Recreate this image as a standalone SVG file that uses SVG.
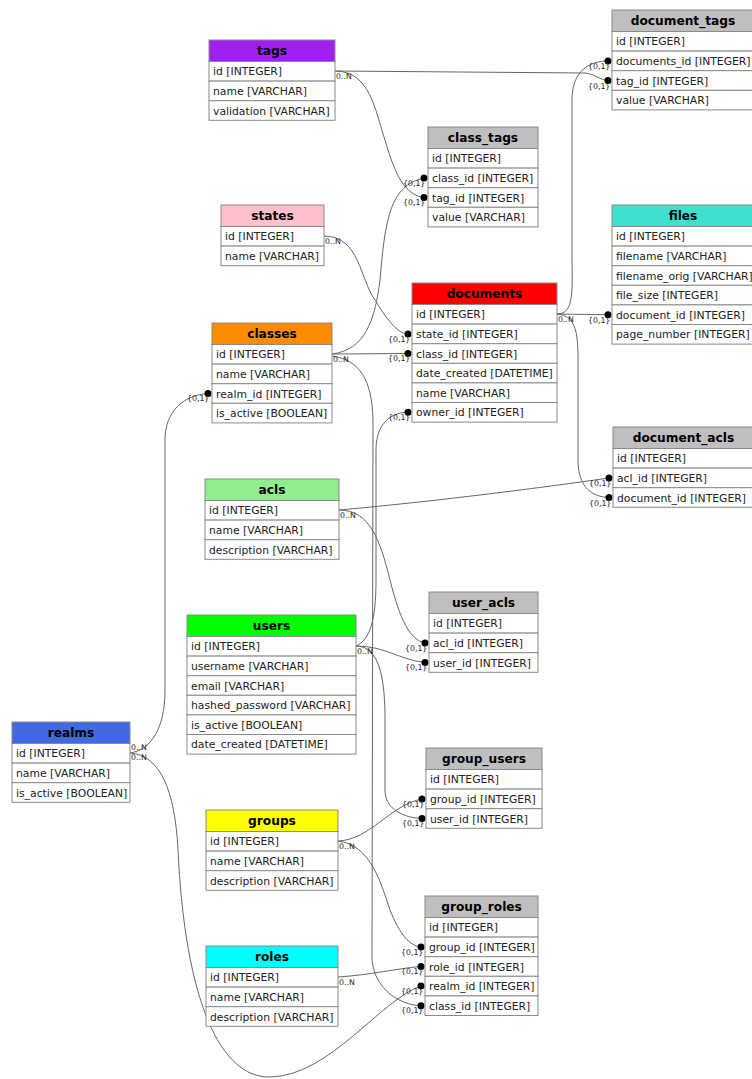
<svg xmlns="http://www.w3.org/2000/svg" width="752" height="1079" viewBox="0 0 752 1079">
<style>
.bg{fill:#ffffff}
.cell{fill:#ffffff;stroke:#8a8a8a;stroke-width:1}
.hd{stroke:#8a8a8a;stroke-width:1}
.ht{font-family:"DejaVu Sans",sans-serif;font-weight:bold;font-size:12.2px;fill:#000;text-anchor:middle}
.rt{font-family:"DejaVu Sans",sans-serif;font-size:10.8px;fill:#222}
.lb{font-family:"DejaVu Sans",sans-serif;font-size:7.8px;fill:#222}
.e{fill:none;stroke:#666;stroke-width:1}
.dot{fill:#000}
.gray{fill:#bfbfbf}
</style>
<rect class="bg" x="0" y="0" width="752" height="1079"/>

<g id="connectors">
<path class="e" d="M335,71 L585,73 C595,74 600,80 608,80.5"/>
<path class="e" d="M335,71 C370,71 375,110 385,140 C395,175 405,195 424,197.5"/>
<path class="e" d="M324,236 C360,236 360,280 375,300 C390,325 400,334 408,334"/>
<path class="e" d="M332,354 L408,353.5"/>
<path class="e" d="M332,354 C365,350 375,320 380,280 C385,220 390,185 424,178"/>
<path class="e" d="M332,356 C360,360 372,380 373,420 L372,960 C375,990 400,1005 421,1005.7"/>
<path class="e" d="M557,314 L608,314.7"/>
<path class="e" d="M557,314 C575,314 572,290 572,250 L572,100 C572,70 590,61 608,61"/>
<path class="e" d="M557,314 C580,316 578,340 578,380 L578,460 C578,490 595,497 609,497.5"/>
<path class="e" d="M339,510 C450,500 560,485 609,478"/>
<path class="e" d="M339,510 C370,510 380,540 390,580 C400,620 410,640 425,643"/>
<path class="e" d="M356,646 C385,646 400,660 425,662.5"/>
<path class="e" d="M356,646 C380,646 385,680 385,720 L385,790 C385,810 405,818 422,818.5"/>
<path class="e" d="M356,646 C370,640 376,620 376,580 L376,450 C376,420 395,412 408,412.3"/>
<path class="e" d="M130,753 C150,750 165,730 165,690 L165,440 C165,410 185,395 208,393.5"/>
<path class="e" d="M130,753 C160,755 175,790 178,850 C185,1000 220,1078 270,1077 C330,1076 380,1000 421,986"/>
<path class="e" d="M338,841 C370,840 390,805 422,799"/>
<path class="e" d="M338,841 C370,845 380,880 390,910 C400,935 410,946 421,947"/>
<path class="e" d="M338,977 C370,975 400,968 421,966.5"/>
<g>
<circle class="dot" cx="608" cy="80.5" r="3.5"/><circle class="dot" cx="608" cy="61" r="3.5"/>
<circle class="dot" cx="424" cy="178" r="3.5"/><circle class="dot" cx="424" cy="197.5" r="3.5"/>
<circle class="dot" cx="608" cy="314.7" r="3.5"/>
<circle class="dot" cx="408" cy="334" r="3.5"/><circle class="dot" cx="408" cy="353.5" r="3.5"/><circle class="dot" cx="408" cy="412.3" r="3.5"/>
<circle class="dot" cx="208" cy="393.5" r="3.5"/>
<circle class="dot" cx="609" cy="478" r="3.5"/><circle class="dot" cx="609" cy="497.5" r="3.5"/>
<circle class="dot" cx="425" cy="643" r="3.5"/><circle class="dot" cx="425" cy="662.5" r="3.5"/>
<circle class="dot" cx="422" cy="799" r="3.5"/><circle class="dot" cx="422" cy="818.5" r="3.5"/>
<circle class="dot" cx="421" cy="947" r="3.5"/><circle class="dot" cx="421" cy="966.5" r="3.5"/><circle class="dot" cx="421" cy="986" r="3.5"/><circle class="dot" cx="421" cy="1005.7" r="3.5"/>
</g>
<g>
<text class="lb" x="336" y="79">0..N</text>
<text class="lb" x="325" y="244">0..N</text>
<text class="lb" x="333" y="362">0..N</text>
<text class="lb" x="558" y="322">0..N</text>
<text class="lb" x="340" y="518">0..N</text>
<text class="lb" x="357" y="654">0..N</text>
<text class="lb" x="131" y="750">0..N</text>
<text class="lb" x="131" y="760">0..N</text>
<text class="lb" x="339" y="849">0..N</text>
<text class="lb" x="339" y="985">0..N</text>
<text class="lb" x="588" y="69">{0,1}</text><text class="lb" x="588" y="89">{0,1}</text>
<text class="lb" x="403" y="186">{0,1}</text><text class="lb" x="403" y="205">{0,1}</text>
<text class="lb" x="588" y="323">{0,1}</text>
<text class="lb" x="388" y="342">{0,1}</text><text class="lb" x="388" y="361">{0,1}</text><text class="lb" x="388" y="420">{0,1}</text>
<text class="lb" x="187" y="401">{0,1}</text>
<text class="lb" x="589" y="486">{0,1}</text><text class="lb" x="589" y="506">{0,1}</text>
<text class="lb" x="405" y="651">{0,1}</text><text class="lb" x="405" y="670">{0,1}</text>
<text class="lb" x="402" y="807">{0,1}</text><text class="lb" x="402" y="826">{0,1}</text>
<text class="lb" x="401" y="955">{0,1}</text><text class="lb" x="401" y="974">{0,1}</text><text class="lb" x="401" y="994">{0,1}</text><text class="lb" x="401" y="1013">{0,1}</text>
</g>
</g>

<g id="tags">
<rect class="hd" x="209" y="40" width="126" height="21.5" fill="#a020f0"/><text class="ht" x="272" y="55">tags</text>
<rect class="cell" x="209" y="61.5" width="126" height="19.6"/><text class="rt" x="213" y="75.3">id [INTEGER]</text>
<rect class="cell" x="209" y="81.1" width="126" height="19.6"/><text class="rt" x="213" y="94.9">name [VARCHAR]</text>
<rect class="cell" x="209" y="100.7" width="126" height="19.6"/><text class="rt" x="213" y="114.5">validation [VARCHAR]</text>
</g>

<g id="document_tags">
<rect class="hd gray" x="612" y="10" width="142" height="21.5"/><text class="ht" x="683" y="25">document_tags</text>
<rect class="cell" x="612" y="31.5" width="142" height="19.6"/><text class="rt" x="616" y="45.3">id [INTEGER]</text>
<rect class="cell" x="612" y="51.1" width="142" height="19.6"/><text class="rt" x="616" y="64.9">documents_id [INTEGER]</text>
<rect class="cell" x="612" y="70.7" width="142" height="19.6"/><text class="rt" x="616" y="84.5">tag_id [INTEGER]</text>
<rect class="cell" x="612" y="90.3" width="142" height="19.6"/><text class="rt" x="616" y="104.1">value [VARCHAR]</text>
</g>

<g id="class_tags">
<rect class="hd gray" x="428" y="127" width="110" height="21.5"/><text class="ht" x="483" y="142">class_tags</text>
<rect class="cell" x="428" y="148.5" width="110" height="19.6"/><text class="rt" x="432" y="162.3">id [INTEGER]</text>
<rect class="cell" x="428" y="168.1" width="110" height="19.6"/><text class="rt" x="432" y="181.9">class_id [INTEGER]</text>
<rect class="cell" x="428" y="187.7" width="110" height="19.6"/><text class="rt" x="432" y="201.5">tag_id [INTEGER]</text>
<rect class="cell" x="428" y="207.3" width="110" height="19.6"/><text class="rt" x="432" y="221.1">value [VARCHAR]</text>
</g>

<g id="states">
<rect class="hd" x="221" y="205" width="103" height="21.5" fill="#ffc0cb"/><text class="ht" x="272.5" y="220">states</text>
<rect class="cell" x="221" y="226.5" width="103" height="19.6"/><text class="rt" x="225" y="240.3">id [INTEGER]</text>
<rect class="cell" x="221" y="246.1" width="103" height="19.6"/><text class="rt" x="225" y="259.9">name [VARCHAR]</text>
</g>

<g id="files">
<rect class="hd" x="612" y="205" width="142" height="21.5" fill="#40e0d0"/><text class="ht" x="683" y="220">files</text>
<rect class="cell" x="612" y="226.5" width="142" height="19.6"/><text class="rt" x="616" y="240.3">id [INTEGER]</text>
<rect class="cell" x="612" y="246.1" width="142" height="19.6"/><text class="rt" x="616" y="259.9">filename [VARCHAR]</text>
<rect class="cell" x="612" y="265.7" width="142" height="19.6"/><text class="rt" x="616" y="279.5">filename_orig [VARCHAR]</text>
<rect class="cell" x="612" y="285.3" width="142" height="19.6"/><text class="rt" x="616" y="299.1">file_size [INTEGER]</text>
<rect class="cell" x="612" y="304.9" width="142" height="19.6"/><text class="rt" x="616" y="318.7">document_id [INTEGER]</text>
<rect class="cell" x="612" y="324.5" width="142" height="19.6"/><text class="rt" x="616" y="338.3">page_number [INTEGER]</text>
</g>

<g id="documents">
<rect class="hd" x="412" y="283" width="145" height="21.5" fill="#ff0000"/><text class="ht" x="484.5" y="298">documents</text>
<rect class="cell" x="412" y="304.5" width="145" height="19.6"/><text class="rt" x="416" y="318.3">id [INTEGER]</text>
<rect class="cell" x="412" y="324.1" width="145" height="19.6"/><text class="rt" x="416" y="337.9">state_id [INTEGER]</text>
<rect class="cell" x="412" y="343.7" width="145" height="19.6"/><text class="rt" x="416" y="357.5">class_id [INTEGER]</text>
<rect class="cell" x="412" y="363.3" width="145" height="19.6"/><text class="rt" x="416" y="377.1">date_created [DATETIME]</text>
<rect class="cell" x="412" y="382.9" width="145" height="19.6"/><text class="rt" x="416" y="396.7">name [VARCHAR]</text>
<rect class="cell" x="412" y="402.5" width="145" height="19.6"/><text class="rt" x="416" y="416.3">owner_id [INTEGER]</text>
</g>

<g id="classes">
<rect class="hd" x="212" y="323" width="120" height="21.5" fill="#ff8c00"/><text class="ht" x="272" y="338">classes</text>
<rect class="cell" x="212" y="344.5" width="120" height="19.6"/><text class="rt" x="216" y="358.3">id [INTEGER]</text>
<rect class="cell" x="212" y="364.1" width="120" height="19.6"/><text class="rt" x="216" y="377.9">name [VARCHAR]</text>
<rect class="cell" x="212" y="383.7" width="120" height="19.6"/><text class="rt" x="216" y="397.5">realm_id [INTEGER]</text>
<rect class="cell" x="212" y="403.3" width="120" height="19.6"/><text class="rt" x="216" y="417.1">is_active [BOOLEAN]</text>
</g>

<g id="document_acls">
<rect class="hd gray" x="613" y="427" width="141" height="21.5"/><text class="ht" x="683.5" y="442">document_acls</text>
<rect class="cell" x="613" y="448.5" width="141" height="19.6"/><text class="rt" x="617" y="462.3">id [INTEGER]</text>
<rect class="cell" x="613" y="468.1" width="141" height="19.6"/><text class="rt" x="617" y="481.9">acl_id [INTEGER]</text>
<rect class="cell" x="613" y="487.7" width="141" height="19.6"/><text class="rt" x="617" y="501.5">document_id [INTEGER]</text>
</g>

<g id="acls">
<rect class="hd" x="205" y="479" width="134" height="21.5" fill="#90ee90"/><text class="ht" x="272" y="494">acls</text>
<rect class="cell" x="205" y="500.5" width="134" height="19.6"/><text class="rt" x="209" y="514.3">id [INTEGER]</text>
<rect class="cell" x="205" y="520.1" width="134" height="19.6"/><text class="rt" x="209" y="533.9">name [VARCHAR]</text>
<rect class="cell" x="205" y="539.7" width="134" height="19.6"/><text class="rt" x="209" y="553.5">description [VARCHAR]</text>
</g>

<g id="user_acls">
<rect class="hd gray" x="429" y="592" width="109" height="21.5"/><text class="ht" x="483.5" y="607">user_acls</text>
<rect class="cell" x="429" y="613.5" width="109" height="19.6"/><text class="rt" x="433" y="627.3">id [INTEGER]</text>
<rect class="cell" x="429" y="633.1" width="109" height="19.6"/><text class="rt" x="433" y="646.9">acl_id [INTEGER]</text>
<rect class="cell" x="429" y="652.7" width="109" height="19.6"/><text class="rt" x="433" y="666.5">user_id [INTEGER]</text>
</g>

<g id="users">
<rect class="hd" x="187" y="615" width="169" height="21.5" fill="#00ff00"/><text class="ht" x="271.5" y="630">users</text>
<rect class="cell" x="187" y="636.5" width="169" height="19.6"/><text class="rt" x="191" y="650.3">id [INTEGER]</text>
<rect class="cell" x="187" y="656.1" width="169" height="19.6"/><text class="rt" x="191" y="669.9">username [VARCHAR]</text>
<rect class="cell" x="187" y="675.7" width="169" height="19.6"/><text class="rt" x="191" y="689.5">email [VARCHAR]</text>
<rect class="cell" x="187" y="695.3" width="169" height="19.6"/><text class="rt" x="191" y="709.1">hashed_password [VARCHAR]</text>
<rect class="cell" x="187" y="714.9" width="169" height="19.6"/><text class="rt" x="191" y="728.7">is_active [BOOLEAN]</text>
<rect class="cell" x="187" y="734.5" width="169" height="19.6"/><text class="rt" x="191" y="748.3">date_created [DATETIME]</text>
</g>

<g id="realms">
<rect class="hd" x="12" y="722" width="118" height="21.5" fill="#4169e1"/><text class="ht" x="71" y="737">realms</text>
<rect class="cell" x="12" y="743.5" width="118" height="19.6"/><text class="rt" x="16" y="757.3">id [INTEGER]</text>
<rect class="cell" x="12" y="763.1" width="118" height="19.6"/><text class="rt" x="16" y="776.9">name [VARCHAR]</text>
<rect class="cell" x="12" y="782.7" width="118" height="19.6"/><text class="rt" x="16" y="796.5">is_active [BOOLEAN]</text>
</g>

<g id="group_users">
<rect class="hd gray" x="426" y="748" width="116" height="21.5"/><text class="ht" x="484" y="763">group_users</text>
<rect class="cell" x="426" y="769.5" width="116" height="19.6"/><text class="rt" x="430" y="783.3">id [INTEGER]</text>
<rect class="cell" x="426" y="789.1" width="116" height="19.6"/><text class="rt" x="430" y="802.9">group_id [INTEGER]</text>
<rect class="cell" x="426" y="808.7" width="116" height="19.6"/><text class="rt" x="430" y="822.5">user_id [INTEGER]</text>
</g>

<g id="groups">
<rect class="hd" x="206" y="810" width="132" height="21.5" fill="#ffff00"/><text class="ht" x="272" y="825">groups</text>
<rect class="cell" x="206" y="831.5" width="132" height="19.6"/><text class="rt" x="210" y="845.3">id [INTEGER]</text>
<rect class="cell" x="206" y="851.1" width="132" height="19.6"/><text class="rt" x="210" y="864.9">name [VARCHAR]</text>
<rect class="cell" x="206" y="870.7" width="132" height="19.6"/><text class="rt" x="210" y="884.5">description [VARCHAR]</text>
</g>

<g id="group_roles">
<rect class="hd gray" x="425" y="896" width="113" height="21.5"/><text class="ht" x="481.5" y="911">group_roles</text>
<rect class="cell" x="425" y="917.5" width="113" height="19.6"/><text class="rt" x="429" y="931.3">id [INTEGER]</text>
<rect class="cell" x="425" y="937.1" width="113" height="19.6"/><text class="rt" x="429" y="950.9">group_id [INTEGER]</text>
<rect class="cell" x="425" y="956.7" width="113" height="19.6"/><text class="rt" x="429" y="970.5">role_id [INTEGER]</text>
<rect class="cell" x="425" y="976.3" width="113" height="19.6"/><text class="rt" x="429" y="990.1">realm_id [INTEGER]</text>
<rect class="cell" x="425" y="995.9" width="113" height="19.6"/><text class="rt" x="429" y="1009.7">class_id [INTEGER]</text>
</g>

<g id="roles">
<rect class="hd" x="206" y="946" width="132" height="21.5" fill="#00ffff"/><text class="ht" x="272" y="961">roles</text>
<rect class="cell" x="206" y="967.5" width="132" height="19.6"/><text class="rt" x="210" y="981.3">id [INTEGER]</text>
<rect class="cell" x="206" y="987.1" width="132" height="19.6"/><text class="rt" x="210" y="1000.9">name [VARCHAR]</text>
<rect class="cell" x="206" y="1006.7" width="132" height="19.6"/><text class="rt" x="210" y="1020.5">description [VARCHAR]</text>
</g>
</svg>
